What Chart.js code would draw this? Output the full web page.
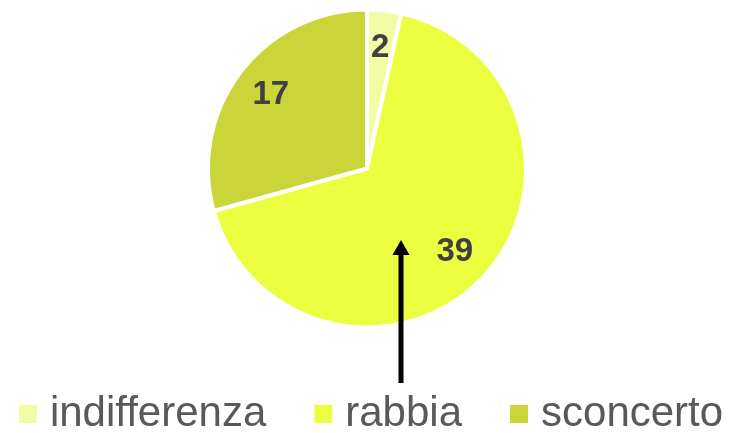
<!DOCTYPE html>
<html>
<head>
<meta charset="utf-8">
<script src="https://cdn.jsdelivr.net/npm/chart.js@4"></script>
<style>
  html, body { margin: 0; padding: 0; background: #fff; overflow: hidden; }
  /* canvas leggermente più largo della finestra, per tenere la legenda su una riga */
  #myChart { display: block; margin-left: -48px; }
</style>
</head>
<body>
<canvas id="myChart" width="830" height="433"></canvas>
<script>
const categorie = ['indifferenza', 'rabbia', 'sconcerto'];
const valori = [2, 39, 17];
const colori = ['#F2FCA4', '#ECFE40', '#C9D538'];

// freccia nera (annotazione sotto la torta), coordinate della pagina
const freccia = { x: 401, yBase: 383, yPunta: 240 };
const spostamento = 48;

const font = '"Liberation Sans", Arial, sans-serif';

const etichette = {
  id: 'etichette',
  afterDatasetsDraw(chart) {
    const ctx = chart.ctx;
    const meta = chart.getDatasetMeta(0);
    ctx.save();
    ctx.font = 'bold 33px ' + font;
    ctx.fillStyle = '#404040';
    ctx.textAlign = 'center';
    ctx.textBaseline = 'middle';
    meta.data.forEach((arc, i) => {
      const p = arc.getProps(['x', 'y', 'startAngle', 'endAngle', 'outerRadius'], true);
      const mid = (p.startAngle + p.endAngle) / 2;
      const r = p.outerRadius * 0.76;
      ctx.fillText(String(valori[i]), p.x + Math.cos(mid) * r, p.y + Math.sin(mid) * r);
    });
    ctx.restore();
  }
};

const frecciaPlugin = {
  id: 'freccia',
  afterDraw(chart) {
    const ctx = chart.ctx;
    const x = freccia.x + spostamento;
    ctx.save();
    ctx.strokeStyle = '#000';
    ctx.fillStyle = '#000';
    ctx.lineWidth = 5;
    ctx.beginPath();
    ctx.moveTo(x, freccia.yBase);
    ctx.lineTo(x, freccia.yPunta + 12);
    ctx.stroke();
    ctx.beginPath();
    ctx.moveTo(x, freccia.yPunta);
    ctx.lineTo(x - 8.5, freccia.yPunta + 15);
    ctx.lineTo(x + 8.5, freccia.yPunta + 15);
    ctx.closePath();
    ctx.fill();
    ctx.restore();
  }
};

// la legenda nell'originale è un po' più a destra della torta
const legendaDestra = {
  id: 'legendaDestra',
  afterLayout(chart) {
    chart.legend.left += 8;
    chart.legend.right += 8;
  }
};

const config = {
  type: 'pie',
  data: {
    labels: categorie,
    datasets: [{
      data: valori,
      backgroundColor: colori,
      borderColor: '#ffffff',
      borderWidth: 4
    }]
  },
  options: {
    responsive: false,
    animation: false,
    radius: 159,
    layout: { padding: { top: 0, bottom: -12, left: 0, right: 0 } },
    plugins: {
      tooltip: { enabled: false },
      legend: {
        position: 'bottom',
        labels: {
          usePointStyle: true,
          pointStyle: 'rect',
          boxWidth: 2,
          boxHeight: 18,
          padding: 56,
          color: '#595959',
          font: { family: font, size: 42 },
          generateLabels(chart) {
            const items = Chart.overrides.pie.plugins.legend.labels.generateLabels(chart);
            items.forEach(it => { it.lineWidth = 0; });
            return items;
          }
        }
      }
    }
  },
  plugins: [etichette, frecciaPlugin, legendaDestra]
};

new Chart(document.getElementById('myChart'), config);
</script>
</body>
</html>
